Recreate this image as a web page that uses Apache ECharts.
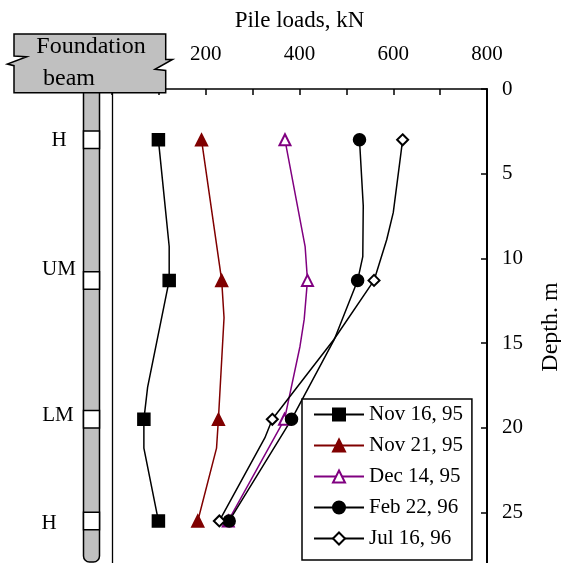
<!DOCTYPE html>
<html>
<head>
<meta charset="utf-8">
<script src="https://cdn.jsdelivr.net/npm/echarts@6/dist/echarts.min.js"></script>
<style>
html,body{margin:0;padding:0;background:#fff;}
#chart{width:561px;height:563px;}
</style>
</head>
<body>
<div id="chart"></div>
<script>
// ---- data ----
const gaugeDepths = [3.0, 11.3, 19.5, 25.5];
const gaugeLabels = ['H', 'UM', 'LM', 'H'];
const seriesNames = ['Nov 16, 95', 'Nov 21, 95', 'Dec 14, 95', 'Feb 22, 96', 'Jul 16, 96'];
const loadTicks = [200, 400, 600, 800];
const depthTicks = [0, 5, 10, 15, 20, 25];

const nov16Depths = [3.0, 9.3, 11.3, 17.6, 19.5, 21.2, 25.5];
const nov16Loads  = [99, 122, 122, 76, 68, 68, 99];
const nov21Depths = [3.0, 11.3, 13.5, 19.5, 21.2, 25.5];
const nov21Loads  = [191, 234, 239, 227, 223, 183];
const dec14Depths = [3.0, 9.3, 11.3, 13.6, 15.2, 19.5, 25.5];
const dec14Loads  = [369, 412, 417, 410, 401, 368, 248];
const feb22Depths = [3.0, 6.9, 9.9, 11.3, 14.8, 19.5, 25.5];
const feb22Loads  = [528, 536, 535, 524, 474, 383, 250];
const jul16Depths = [3.0, 4.3, 7.3, 8.9, 11.3, 14.8, 19.5, 20.6, 25.5];
const jul16Loads  = [620, 614, 600, 586, 559, 473, 342, 326, 229];

const FONT = '"Liberation Serif", "Times New Roman", serif';

function buildData(loads, depths) {
  return loads.map(function (l, i) {
    const item = { value: [l, depths[i]] };
    if (gaugeDepths.indexOf(depths[i]) < 0) item.symbol = 'none';
    return item;
  });
}

function makeSeries(name, loads, depths, color, symbol, size) {
  return {
    name: name,
    type: 'line',
    xAxisIndex: 0,
    yAxisIndex: 0,
    data: buildData(loads, depths),
    symbol: symbol,
    symbolSize: size,
    showAllSymbol: true,
    lineStyle: { color: color, width: 1.5 },
    itemStyle: { color: color, borderColor: color, borderWidth: 1.5 },
    emphasis: { disabled: true }
  };
}

const chart = echarts.init(document.getElementById('chart'), null, { renderer: 'canvas' });

const option = {
  animation: false,
  backgroundColor: '#fff',
  grid: { left: 112, right: 74, top: 89, bottom: -2, containLabel: false, outerBoundsMode: 'none' },
  legend: {
    orient: 'vertical',
    left: 302,
    top: 399,
    itemWidth: 50,
    itemHeight: 15,
    itemGap: 10,
    padding: [5, 9, 11, 11],
    backgroundColor: '#fff',
    borderColor: '#000',
    borderWidth: 1.5,
    borderRadius: 0,
    textStyle: { fontFamily: FONT, fontSize: 21, color: '#000', lineHeight: 21 },
    data: seriesNames,
    z: 50
  },
  xAxis: [{
    type: 'value',
    position: 'top',
    min: 0,
    max: 800,
    interval: 100,
    name: 'Pile loads, kN',
    nameLocation: 'middle',
    nameGap: 57,
    nameTextStyle: { fontFamily: FONT, fontSize: 23, color: '#000' },
    axisLine: { show: true, onZero: false, lineStyle: { color: '#000', width: 1.5 } },
    axisTick: { show: true, inside: true, length: 6, lineStyle: { color: '#000', width: 1.5 } },
    axisLabel: {
      margin: 24,
      fontFamily: FONT, fontSize: 21, color: '#000',
      formatter: function (v) { return loadTicks.indexOf(v) >= 0 ? String(v) : ''; }
    },
    splitLine: { show: false }
  }],
  yAxis: [{
    type: 'value',
    position: 'right',
    inverse: true,
    min: 0,
    max: 28.1,
    interval: 5,
    name: 'Depth. m',
    nameLocation: 'middle',
    nameRotate: 90,
    nameGap: 52,
    nameTextStyle: { fontFamily: FONT, fontSize: 24, color: '#000' },
    axisLine: { show: true, onZero: false, lineStyle: { color: '#000', width: 2 } },
    axisTick: { show: true, inside: true, length: 6, lineStyle: { color: '#000', width: 1.5 } },
    axisLabel: {
      margin: 15,
      fontFamily: FONT, fontSize: 21, color: '#000',
      formatter: function (v) { return depthTicks.indexOf(v) >= 0 ? String(v) : ''; }
    },
    splitLine: { show: false }
  }, {
    type: 'value',
    position: 'left',
    inverse: true,
    min: 0,
    max: 28.1,
    axisLine: { show: true, onZero: false, lineStyle: { color: '#000', width: 1.3 } },
    axisTick: { show: false },
    axisLabel: { show: false },
    splitLine: { show: false }
  }],
  series: [
    makeSeries(seriesNames[0], nov16Loads, nov16Depths, '#000000', 'rect', 12),
    makeSeries(seriesNames[1], nov21Loads, nov21Depths, '#800000', 'triangle', 12),
    makeSeries(seriesNames[2], dec14Loads, dec14Depths, '#800080', 'emptyTriangle', 11),
    makeSeries(seriesNames[3], feb22Loads, feb22Depths, '#000000', 'circle', 12),
    makeSeries(seriesNames[4], jul16Loads, jul16Depths, '#000000', 'emptyDiamond', [11, 11])
  ]
};
chart.setOption(option);

// ---- pile & foundation beam sketch (decoration), gauges placed via the depth axis ----
const labelOffsets = [
  { dx: 59, dy: 1 }, { dx: 59, dy: -11 }, { dx: 58, dy: -4 }, { dx: 49, dy: 3 }
];
const graphics = [];
graphics.push({
  type: 'rect', z: 100,
  shape: { x: 83.5, y: 90, width: 16, height: 472, r: [0, 0, 6, 6] },
  style: { fill: '#c0c0c0', stroke: '#000', lineWidth: 1.5 }
});
gaugeDepths.forEach(function (d, i) {
  const py = chart.convertToPixel({ yAxisIndex: 0 }, d);
  graphics.push({
    type: 'rect', z: 101,
    shape: { x: 83.5, y: py - 8.75, width: 16, height: 17.5 },
    style: { fill: '#fff', stroke: '#000', lineWidth: 1.5 }
  });
  graphics.push({
    type: 'text', z: 101,
    x: labelOffsets[i].dx, y: py + labelOffsets[i].dy,
    style: { text: gaugeLabels[i], font: '21px ' + FONT, fill: '#000', align: 'center', verticalAlign: 'middle' }
  });
});
graphics.push({
  type: 'polygon', z: 102,
  shape: { points: [
    [14, 34], [165.7, 34], [165.7, 59.5], [172.5, 59.5], [155, 69.3], [165.7, 70.5],
    [165.7, 92.7], [14, 92.7], [14, 65.7], [7.3, 64], [26.7, 56.7], [14, 56]
  ] },
  style: { fill: '#c0c0c0', stroke: '#000', lineWidth: 1.5 }
});
graphics.push({
  type: 'text', z: 103, x: 91, y: 47,
  style: { text: 'Foundation', font: '24px ' + FONT, fill: '#000', align: 'center', verticalAlign: 'middle' }
});
graphics.push({
  type: 'text', z: 103, x: 69, y: 79,
  style: { text: 'beam', font: '24px ' + FONT, fill: '#000', align: 'center', verticalAlign: 'middle' }
});
chart.setOption({ graphic: graphics });
</script>
</body>
</html>
